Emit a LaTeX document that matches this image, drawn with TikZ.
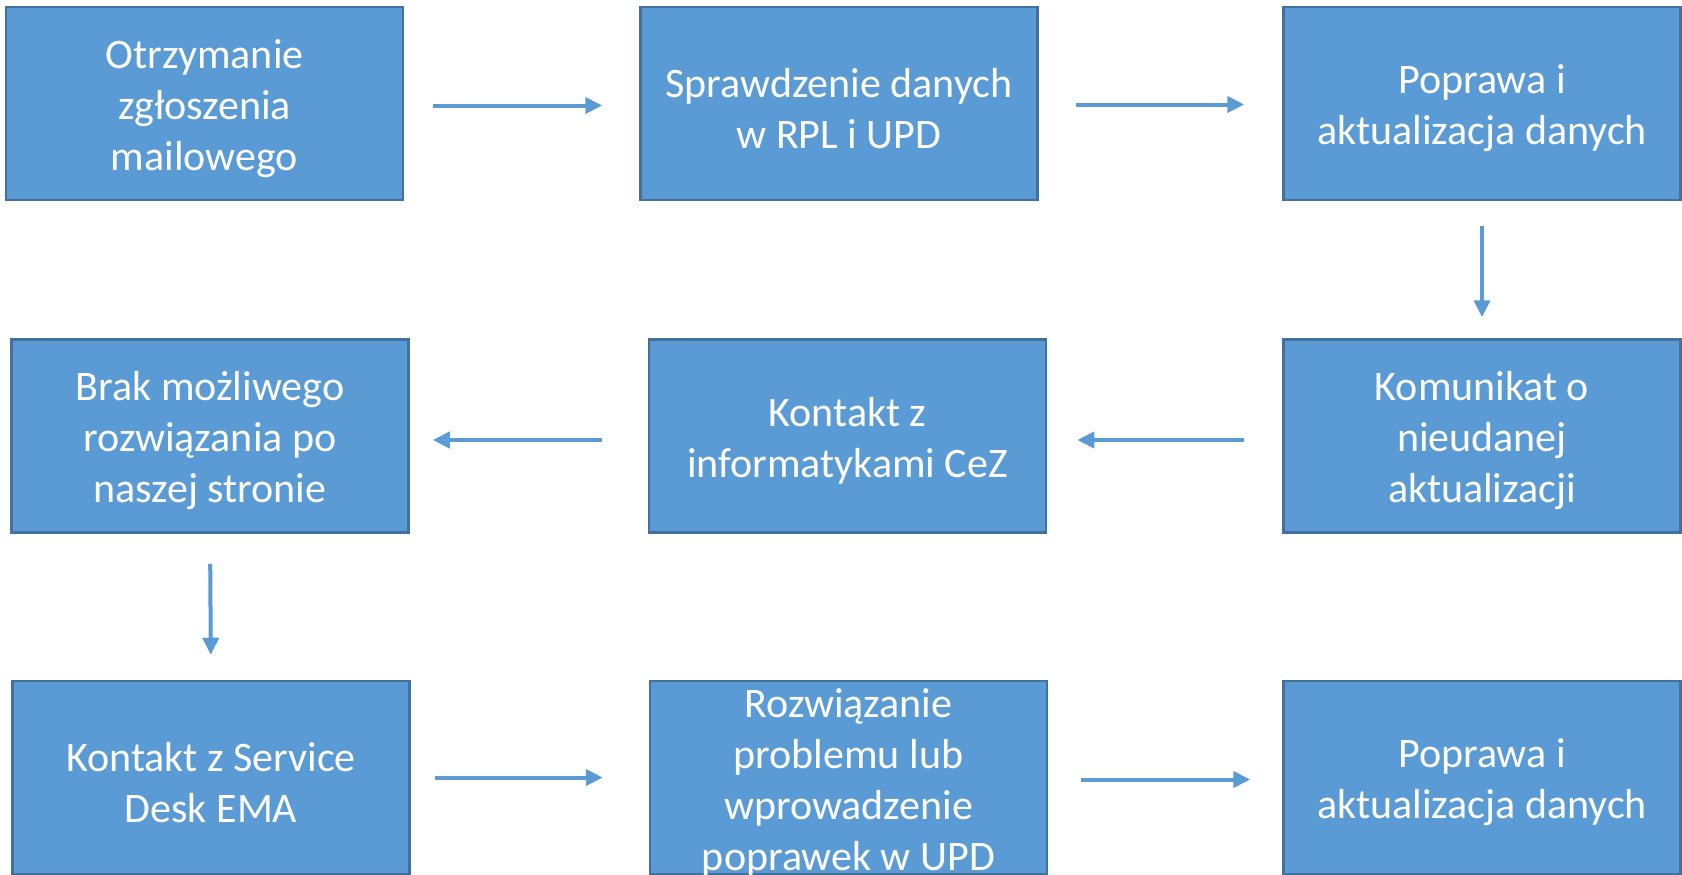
\documentclass[tikz,border=0pt]{standalone}
\usepackage{fontspec}
\setmainfont{Carlito}
\usetikzlibrary{arrows.meta}
\definecolor{boxfill}{HTML}{5B9BD5}
\definecolor{boxline}{HTML}{41719C}
\tikzset{
  box/.style={draw=boxline, fill=boxfill, line width=2.5pt, minimum width=397pt, minimum height=193pt, inner sep=0pt},
  txt/.style={text=white, align=center, font=\fontsize{42}{51}\selectfont, inner sep=0pt, yshift=-5pt},
  arr/.style={draw=boxfill, line width=4pt, -{Triangle[length=17pt,width=16pt]}}
}
\begin{document}
\begin{tikzpicture}[x=1pt,y=-1pt]
\clip (0,0) rectangle (1682,875);
\fill[white] (0,0) rectangle (1682,875);
\node[box] (b1) at (204.5,103.5) {};
\node[box] (b2) at (839,103.5) {};
\node[box] (b3) at (1482,103.5) {};
\node[box] (b4) at (210,436) {};
\node[box] (b5) at (847.5,436) {};
\node[box] (b6) at (1482,436) {};
\node[box] (b7) at (211,777.5) {};
\node[box] (b8) at (848.5,777.5) {};
\node[box] (b9) at (1482,777.5) {};
\node[txt] (t1) at (b1) {Otrzymanie\\zgłoszenia\\mailowego};
\node[txt] (t2) at (b2) {Sprawdzenie danych\\w RPL i UPD};
\node[txt] (t3) at (b3) {Poprawa i\\aktualizacja danych};
\node[txt] (t4) at (b4) {Brak możliwego\\rozwiązania po\\naszej stronie};
\node[txt] (t5) at (b5) {Kontakt z\\informatykami CeZ};
\node[txt] (t6) at (b6) {Komunikat o\\nieudanej\\aktualizacji};
\node[txt] (t7) at (b7) {Kontakt z Service\\Desk EMA};
\node[txt] (t8) at (b8) {Rozwiązanie\\problemu lub\\wprowadzenie\\poprawek w UPD};
\node[txt] (t9) at (b9) {Poprawa i\\aktualizacja danych};
\draw[arr, shorten <=29pt, shorten >=37pt] ([yshift=-2pt]b1.east) -- ([yshift=-2pt]b2.west);
\draw[arr, shorten <=37pt, shorten >=38pt] ([yshift=-1pt]b2.east) -- ([yshift=-1pt]b3.west);
\draw[arr, shorten <=25pt, shorten >=21pt] (b3.south) -- (b6.north);
\draw[arr, shorten <=38pt, shorten >=30pt] ([yshift=-4pt]b6.west) -- ([yshift=-4pt]b5.east);
\draw[arr, shorten <=46pt, shorten >=23pt] ([yshift=-4pt]b5.west) -- ([yshift=-4pt]b4.east);
\draw[arr, shorten <=30pt, shorten >=25pt] (b4.south) -- (b7.north);
\draw[arr, shorten <=24pt, shorten >=46pt] (b7.east) -- (b8.west);
\draw[arr, shorten <=33pt, shorten >=32pt] ([yshift=-2pt]b8.east) -- ([yshift=-2pt]b9.west);
\end{tikzpicture}
\end{document}
